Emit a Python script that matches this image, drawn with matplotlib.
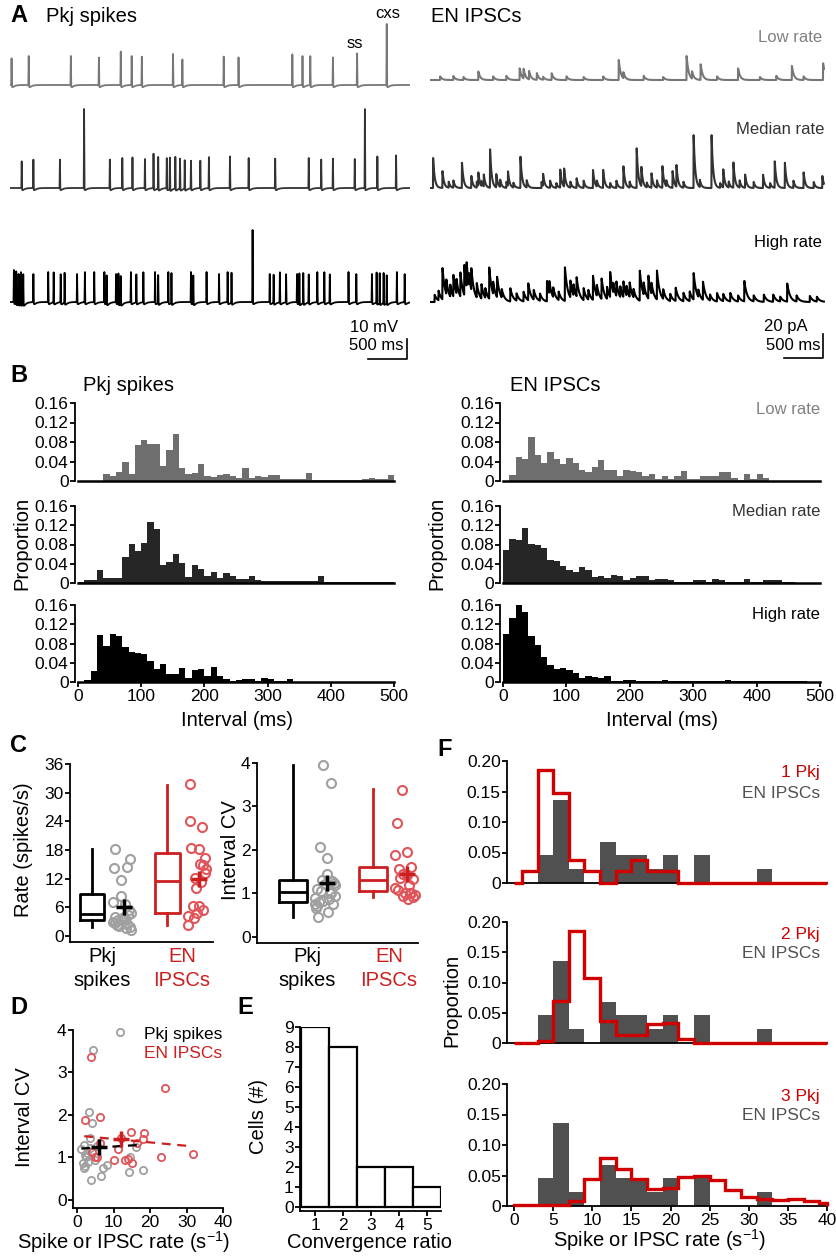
import numpy as np
import matplotlib.pyplot as plt

plt.rcParams['font.family'] = ['Liberation Sans', 'DejaVu Sans']
plt.rcParams['font.size'] = 12
plt.rcParams['axes.linewidth'] = 1.3
plt.rcParams['xtick.major.width'] = 1.3
plt.rcParams['ytick.major.width'] = 1.3
plt.rcParams['xtick.major.size'] = 3.5
plt.rcParams['ytick.major.size'] = 3.5
plt.rcParams['xtick.labelsize'] = 12.5
plt.rcParams['ytick.labelsize'] = 12.5
plt.rcParams['xtick.major.pad'] = 1.5
plt.rcParams['ytick.major.pad'] = 1

RED = '#cc1f1f'
LIGHT_RED = '#e0555a'
GRAY_PT = '#a0a0a0'
DARK_GRAY = '#505050'
TRACE_COLORS = ['#777777', '#333333', '#000000']

# ---------------- A: example traces (event times in s, amplitudes in mV / pA)
pkj_low_t = [0.02, 0.24, 0.78, 1.14, 1.42, 1.56, 1.69, 2.09, 2.21, 2.74, 2.93,
             3.62, 3.75, 3.85, 4.14, 4.45, 4.83]
pkj_low_amp = [13.3, 14.5, 14.5, 13.7, 16.7, 14.5, 14.2, 15.5, 12.8, 14.2, 13.8,
               15.3, 14.5, 14.5, 13.8, 15.8, 30.5]
pkj_med_t = [0.15, 0.30, 0.64, 0.95, 1.28, 1.44, 1.57, 1.73, 1.84, 1.90, 2.01,
             2.05, 2.12, 2.18, 2.24, 2.32, 2.44, 2.55, 2.82, 3.06, 3.40, 3.83,
             3.99, 4.14, 4.42, 4.55, 4.71, 4.95]
pkj_med_amp = [13.3, 14.2, 14.2, 39.5, 14.2, 15.0, 15.3, 14.5, 17.2, 15.8, 15.0,
               15.8, 15.8, 15.0, 14.2, 13.8, 13.7, 15.5, 15.8, 15.0, 14.7, 15.0,
               14.2, 14.7, 14.5, 39.5, 15.8, 16.3]
pkj_high_t = [0.05, 0.08, 0.11, 0.14, 0.17, 0.30, 0.49, 0.56, 0.65, 0.70, 0.86,
              0.96, 1.08, 1.21, 1.24, 1.36, 1.39, 1.42, 1.55, 1.62, 1.71, 1.86,
              1.90, 2.03, 2.07, 2.32, 2.35, 2.52, 2.68, 2.79, 2.84, 3.11, 3.33,
              3.38, 3.46, 3.54, 3.68, 3.71, 3.76, 3.83, 3.94, 4.03, 4.10, 4.34,
              4.44, 4.64, 4.70, 4.74, 4.79, 4.83, 4.96, 5.06]
pkj_high_amp = [16, 16, 15, 16, 15, 14, 15, 15, 14, 15, 14, 15, 15, 15, 14, 14,
                15, 14, 15, 14, 15, 15, 14, 15, 15, 15, 14, 15, 14, 15, 15, 36,
                14, 14, 15, 14, 14, 15, 15, 14, 15, 15, 14, 15, 14, 14, 15, 15,
                15, 14, 15, 14]

en_low_t = [0.30, 0.62, 1.15, 1.20, 1.27, 1.37, 1.56, 2.42, 2.48, 3.29, 3.36,
            3.47, 3.95, 4.64, 5.04,
            0.13, 0.43, 0.81, 0.98, 1.45, 1.75, 1.97, 2.22, 2.74, 2.99, 3.68,
            4.23, 4.44, 4.79]
en_low_amp = [3.3, 7.0, 9.7, 8.0, 7.0, 5.6, 5.6, 16.7, 5.0, 20.0, 6.0, 13.0,
              9.7, 11.7, 13.9,
              3, 2.5, 3, 3.5, 2.5, 3, 2.5, 3, 3.5, 2.5, 3, 2.5, 3.5, 3]
en_med_t = [0.04, 0.16, 0.41, 0.53, 0.62, 0.69, 0.77, 0.85, 1.00, 1.16, 1.45,
            1.67, 1.72, 1.88, 2.09, 2.22, 2.48, 2.65, 2.71, 2.84, 2.98, 3.11,
            3.16, 3.38, 3.61, 3.76, 3.89, 4.04, 4.27, 4.42, 4.55, 4.79, 5.03,
            0.24, 0.30, 0.60, 0.66, 0.90, 0.98, 1.07, 1.24, 1.43, 1.54, 1.62,
            1.80, 1.97, 2.14, 2.31, 2.39, 2.56, 2.78, 2.91, 3.03, 3.25, 3.46,
            3.72, 3.83, 3.97, 4.15, 4.36, 4.66, 4.92]
en_med_amp = [25, 14, 21, 10, 11, 10, 32, 11, 12, 26, 10, 15, 15, 8, 15, 15, 18,
              33, 16, 12, 18, 14, 18, 44, 44, 15, 21, 11, 11, 22, 21, 13, 10,
              5, 6, 5, 4, 6, 5, 4, 6, 5, 6, 4, 5, 6, 5, 4, 6, 5, 4, 6, 5, 5, 6,
              4, 5, 6, 5, 4, 6, 5]
en_high_t = [0.16, 0.21, 0.30, 0.39, 0.44, 0.47, 0.53, 0.60, 0.76, 0.86, 1.03,
             1.26, 1.33, 1.50, 1.53, 1.73, 1.80, 1.88, 2.09, 2.20, 2.31, 2.39,
             2.48, 2.56, 2.69, 2.80, 2.91, 3.15, 3.38, 3.50, 3.68, 3.85, 4.03,
             4.28, 4.58, 4.87,
             0.06, 0.11, 0.26, 0.34, 0.50, 0.66, 0.71, 0.81, 0.92, 1.11, 1.20,
             1.41, 1.58, 1.65, 1.84, 1.97, 2.03, 2.14, 2.27, 2.35, 2.44, 2.52,
             2.61, 2.74, 2.84, 2.99, 3.08, 3.25, 3.33, 3.44, 3.59, 3.76, 3.95,
             4.15, 4.40, 4.49, 4.70, 4.96]
en_high_amp = [26, 12, 18, 20, 25, 20, 18, 12, 26, 17, 11, 14, 8, 17, 10, 28,
               14, 16, 20, 17, 21, 12, 13, 12, 25, 19, 24, 11, 22, 15, 7, 7, 17,
               6, 15, 5,
               6, 8, 10, 12, 10, 12, 8, 10, 7, 6, 8, 6, 8, 7, 9, 10, 8, 9, 10,
               8, 9, 8, 7, 10, 9, 8, 6, 7, 8, 6, 5, 6, 5, 5, 6, 4, 5, 4]

# ---------------- B: interval histograms (10 ms bins, 0-500 ms)
interval_edges = np.arange(0, 510, 10)
pkj_low_hist = [0.001, 0.001, 0.001, 0.001, 0.015, 0.010, 0.018, 0.039, 0.014, 0.073,
                0.085, 0.075, 0.075, 0.030, 0.063, 0.096, 0.027, 0.014, 0.016, 0.034,
                0.010, 0.008, 0.012, 0.015, 0.010, 0.006, 0.027, 0.006, 0.010, 0.008,
                0.012, 0.012, 0.005, 0.005, 0.005, 0.005, 0.016, 0.003, 0.003, 0.003,
                0.003, 0.003, 0.003, 0.003, 0.003, 0.005, 0.006, 0.004, 0.005, 0.012]
pkj_med_hist = [0.002, 0.007, 0.007, 0.026, 0.010, 0.010, 0.010, 0.054, 0.081, 0.066,
                0.084, 0.126, 0.112, 0.038, 0.043, 0.061, 0.041, 0.012, 0.037, 0.029,
                0.014, 0.022, 0.010, 0.021, 0.014, 0.008, 0.008, 0.015, 0.006, 0.004,
                0.004, 0.004, 0.004, 0.004, 0.004, 0.004, 0.004, 0.004, 0.015, 0.002,
                0.002, 0.002, 0.002, 0.002, 0.002, 0.002, 0.002, 0.002, 0.002, 0.002]
pkj_high_hist = [0.001, 0.005, 0.022, 0.097, 0.074, 0.099, 0.095, 0.072, 0.062, 0.061,
                 0.059, 0.044, 0.026, 0.038, 0.016, 0.016, 0.029, 0.008, 0.024, 0.026,
                 0.012, 0.031, 0.013, 0.007, 0.003, 0.005, 0.006, 0.006, 0.003, 0.009,
                 0.007, 0.003, 0.003, 0.006, 0, 0, 0, 0, 0, 0,
                 0, 0, 0, 0, 0, 0, 0, 0, 0, 0]
en_low_hist = [0, 0.012, 0.050, 0.046, 0.090, 0.054, 0.036, 0.060, 0.046, 0.034,
               0.048, 0.037, 0.023, 0.019, 0.028, 0.043, 0.023, 0.023, 0.010, 0.022,
               0.020, 0.018, 0.010, 0.015, 0.005, 0.010, 0.005, 0.010, 0.021, 0.005,
               0.005, 0.010, 0.010, 0.010, 0.019, 0.019, 0.006, 0.003, 0.014, 0.005,
               0.015, 0.006, 0.001, 0.001, 0.001, 0.001, 0.001, 0.001, 0.001, 0.001]
en_med_hist = [0.068, 0.091, 0.090, 0.115, 0.081, 0.079, 0.072, 0.048, 0.045, 0.036,
               0.026, 0.022, 0.034, 0.028, 0.012, 0.014, 0.010, 0.017, 0.014, 0.007,
               0.010, 0.015, 0.014, 0.006, 0.008, 0.008, 0.007, 0.003, 0.003, 0.002,
               0.007, 0.007, 0.003, 0.008, 0.006, 0.003, 0.003, 0.003, 0.008, 0.003,
               0.002, 0.007, 0.006, 0.006, 0.003, 0.002, 0.001, 0.001, 0.001, 0.001]
en_high_hist = [0.100, 0.134, 0.160, 0.146, 0.096, 0.077, 0.052, 0.035, 0.028, 0.030,
                0.024, 0.019, 0.009, 0.012, 0.010, 0.009, 0.012, 0.003, 0.003, 0.005,
                0.005, 0.003, 0.002, 0.002, 0.002, 0.004, 0.002, 0.002, 0.002, 0.002,
                0.002, 0.002, 0.002, 0.002, 0.002, 0.004, 0.002, 0.002, 0.002, 0.002,
                0.002, 0.002, 0.002, 0.002, 0.002, 0.002, 0.002, 0.002, 0.001, 0.001]

# ---------------- C / D: per-cell rate and interval CV
pkj_rate = [18.2, 16.1, 14.3, 14.5, 11.7, 8.3, 7.2, 6.7, 4.4, 3.3, 4.0, 3.9, 1.2,
            2.0, 2.5, 3.0, 1.8, 2.2, 3.5, 2.8, 4.8, 3.6, 2.3, 5.5, 1.7]
pkj_cv = [0.71, 1.25, 0.66, 1.00, 3.96, 0.82, 0.75, 0.57, 3.53, 2.08, 1.82, 0.47,
          1.19, 1.30, 1.00, 0.90, 0.75, 0.80, 1.45, 1.10, 0.95, 1.22, 1.05, 1.28, 0.88]
en_rate = [3.7, 24.0, 2.3, 6.2, 14.9, 18.4, 18.2, 11.2, 10.1, 13.2, 14.0, 15.1,
           22.9, 31.8, 4.2, 4.8, 5.5, 6.2, 16.3, 12.1]
en_cv = [3.37, 2.63, 1.88, 1.95, 1.60, 1.57, 1.43, 1.20, 0.95, 0.93, 0.96, 0.88,
         1.02, 1.08, 1.13, 1.02, 1.02, 1.35, 1.33, 1.45]
mean_rate = [6.1, 12.0]
mean_cv = [1.25, 1.44]
# box stats: whislo, q1, median, q3, whishi
rate_box = [[1.9, 3.4, 4.5, 8.7, 18.2], [2.3, 4.8, 11.5, 17.3, 31.7]]
cv_box = [[0.47, 0.80, 1.03, 1.30, 3.96], [0.92, 1.05, 1.31, 1.62, 3.40]]
pkj_fit_x, pkj_fit_y = [1.2, 18.2], [1.21, 1.30]
en_fit_x, en_fit_y = [2.0, 30.5], [1.50, 1.27]

# ---------------- E: convergence ratio
conv_ratio = [1, 2, 3, 4, 5]
conv_cells = [9, 8, 2, 2, 1]

# ---------------- F: rate histograms
en_rate_edges = np.arange(3, 35, 2)
en_rate_hist = [0.046, 0.136, 0.023, 0, 0.068, 0.046, 0.046, 0.023, 0.046, 0,
                0.046, 0, 0, 0, 0.023]
pkj_model_edges = np.concatenate([[0], np.arange(1, 40, 2), [40]])
pkj_model_hists = [
    [0, 0.019, 0.186, 0.148, 0.037, 0.019, 0, 0.019, 0.037, 0.019, 0.019,
     0, 0, 0, 0, 0, 0, 0, 0, 0, 0],
    [0, 0, 0.004, 0.070, 0.185, 0.108, 0.036, 0.013, 0.013, 0.031, 0.033,
     0.007, 0, 0, 0, 0, 0, 0, 0, 0, 0],
    [0.001, 0.001, 0.001, 0.002, 0.008, 0.045, 0.078, 0.060, 0.045, 0.028, 0.030,
     0.047, 0.049, 0.042, 0.026, 0.014, 0.012, 0.010, 0.011, 0.008, 0.005],
]
pkj_model_labels = ['1 Pkj', '2 Pkj', '3 Pkj']

W, H = 837, 1256
fig = plt.figure(figsize=(W / 100, H / 100), dpi=100)


def px_axes(x0, y0, x1, y1):
    return fig.add_axes([x0 / W, 1 - y1 / H, (x1 - x0) / W, (y1 - y0) / H])


def label(x, y, s, **kw):
    kw.setdefault('fontsize', 14.5)
    kw.setdefault('va', 'center')
    fig.text(x / W, 1 - y / H, s, **kw)


def clean(ax):
    ax.spines[['top', 'right']].set_visible(False)
    ax.patch.set_visible(False)


# ---------------- A
t = np.arange(0, 5.13, 0.0005)


def pkj_trace(times, amps):
    v = np.zeros_like(t)
    for ts, a in zip(times, amps):
        d = t - ts
        dp = np.clip(d, 0, None)
        v += a * np.clip(1 - np.abs(d) / 0.005, 0, None)
        v -= 2.0 * (np.exp(-dp / 0.03) - np.exp(-dp / 0.006))
    return v


def ipsc_trace(times, amps, tau):
    c = np.zeros_like(t)
    for ts, a in zip(times, amps):
        d = t - ts
        rise = np.clip((d + 0.002) / 0.002, 0, 1)
        c += a * rise * np.exp(-np.clip(d, 0, None) / tau)
    return c


axl = px_axes(10, 0, 410, 365)
axl.set_xlim(0, 400 / 78)
axl.set_ylim(0, 365 / 2.0)
axl.axis('off')
for (tt, aa), base, col in zip([(pkj_low_t, pkj_low_amp), (pkj_med_t, pkj_med_amp),
                                (pkj_high_t, pkj_high_amp)], [140, 88.5, 31.5], TRACE_COLORS):
    axl.plot(t, base + pkj_trace(tt, aa), color=col, lw=1.3)
axl.plot([5.09, 5.09, 4.59], [13, 3, 3], color='black', lw=1.2)

axr = px_axes(430, 0, 830, 365)
axr.set_xlim(0, 400 / 78)
axr.set_ylim(0, 365 / 1.2)
axr.axis('off')
for (tt, aa), base, col, tau in zip([(en_low_t, en_low_amp), (en_med_t, en_med_amp),
                                     (en_high_t, en_high_amp)], [237.5, 147.5, 52.5],
                                    TRACE_COLORS, [0.025, 0.02, 0.035]):
    m = t <= 5.05
    axr.plot(t[m], base + ipsc_trace(tt, aa, tau)[m], color=col, lw=1.5)
axr.plot([5.04, 5.04, 4.54], [25.8, 5.8, 5.8], color='black', lw=1.2)

label(10, 16, 'A', fontsize=17, fontweight='bold')
label(46, 16, 'Pkj spikes')
label(355, 44, 'ss', fontsize=12, ha='center')
label(388, 14, 'cxs', fontsize=12, ha='center')
label(431, 16, 'EN IPSCs')
label(822, 37, 'Low rate', fontsize=12, ha='right', color='#808080')
label(824, 130, 'Median rate', fontsize=12, ha='right', color='#333333')
label(822, 242, 'High rate', fontsize=12, ha='right')
label(398, 327, '10 mV', fontsize=12, ha='right')
label(404, 346, '500 ms', fontsize=12, ha='right')
label(808, 327, '20 pA', fontsize=12, ha='right')
label(821, 346, '500 ms', fontsize=12, ha='right')

# ---------------- B
b_rows = [(403, 481), (506, 583), (605, 682)]
hist_colors = ['#6e6e6e', '#262626', '#000000']
for (x0, x1, hists) in [(74.8, 394, [pkj_low_hist, pkj_med_hist, pkj_high_hist]),
                        (500.5, 820, [en_low_hist, en_med_hist, en_high_hist])]:
    for r, ((y0, y1), vals) in enumerate(zip(b_rows, hists)):
        ax = px_axes(x0, y0, x1, y1)
        clean(ax)
        ax.stairs(vals, interval_edges, fill=True, color=hist_colors[r], lw=0)
        ax.set_xlim(-5 if x0 < 100 else -4, 500)
        ax.set_ylim(0, 0.16)
        ax.spines['bottom'].set_bounds(0, 500)
        ax.spines['bottom'].set_linewidth(1.8)
        ax.set_yticks([0, 0.04, 0.08, 0.12, 0.16])
        ax.set_yticklabels(['0', '0.04', '0.08', '0.12', '0.16'])
        if r == 2:
            ax.set_xticks([0, 100, 200, 300, 400, 500])
        else:
            ax.set_xticks([])

label(10, 376, 'B', fontsize=17, fontweight='bold')
label(83, 385, 'Pkj spikes')
label(510, 385, 'EN IPSCs')
label(820, 409, 'Low rate', fontsize=12, ha='right', color='#808080')
label(820, 512, 'Median rate', fontsize=12, ha='right', color='#333333')
label(820, 615, 'High rate', fontsize=12, ha='right')
label(22, 543, 'Proportion', rotation=90, ha='center')
label(437, 543, 'Proportion', rotation=90, ha='center')
label(237, 720, 'Interval (ms)', ha='center')
label(662, 720, 'Interval (ms)', ha='center')

# ---------------- C
pkj_jit = [-0.10, 0.11, -0.11, 0.06, -0.02, -0.02, -0.12, 0.04, 0.08, -0.06, 0.02,
           -0.09, 0.12, -0.04, 0.07, -0.12, 0.10, -0.07, 0.03, -0.10, 0.12, 0.00,
           -0.05, 0.09, 0.05]
en_jit = [-0.04, -0.10, -0.12, 0.02, 0.08, -0.08, 0.02, 0.05, -0.02, 0.10, 0.12,
          0.04, 0.06, -0.09, -0.12, 0.00, 0.08, -0.06, 0.10, -0.03]

c_specs = [
    ((70, 764, 213, 942), (0.707, 2.61), (-1.26, 36), np.arange(0, 37, 6),
     rate_box, pkj_rate, en_rate, mean_rate, 0.33),
    ((257, 763, 418, 943), (0.55, 2.5625), (-0.138, 4), np.arange(0, 5, 1),
     cv_box, pkj_cv, en_cv, mean_cv, 0.34),
]
for box_px, xl, yl, yt, boxes, pk, en, means, bw in c_specs:
    ax = px_axes(*box_px)
    clean(ax)
    for i, (st, col) in enumerate(zip(boxes, ['black', RED])):
        stats = [dict(whislo=st[0], q1=st[1], med=st[2], q3=st[3], whishi=st[4], fliers=[])]
        props = dict(color=col, lw=2.0)
        ax.bxp(stats, positions=[i + 1], widths=bw, showcaps=False, showfliers=False,
               boxprops=props, whiskerprops=props, medianprops=props, manage_ticks=False)
    ax.plot(1.4 + np.array(pkj_jit), pk, 'o', mfc='none', mec=GRAY_PT, ms=6.5, mew=1.5,
            clip_on=False)
    ax.plot(2.4 + np.array(en_jit), en, 'o', mfc='none', mec=LIGHT_RED, ms=6.5, mew=1.5,
            clip_on=False)
    ax.plot([1.42], [means[0]], '+', color='black', ms=12, mew=2.5)
    ax.plot([2.42], [means[1]], '+', color=RED, ms=12, mew=2.5)
    ax.set_xlim(*xl)
    ax.set_ylim(*yl)
    ax.set_yticks(yt)
    ax.set_xticks([])

label(10, 745, 'C', fontsize=17, fontweight='bold')
label(24, 850, 'Rate (spikes/s)', rotation=90, ha='center')
label(231, 850, 'Interval CV', rotation=90, ha='center')
for xc in (102, 307):
    label(xc, 957, 'Pkj', ha='center')
    label(xc, 980, 'spikes', ha='center')
for xc in (182, 389):
    label(xc, 957, 'EN', ha='center', color=RED)
    label(xc, 980, 'IPSCs', ha='center', color=RED)

# ---------------- D
ax = px_axes(73, 1030, 223, 1208)
clean(ax)
ax.set_xlim(-1.1, 40)
ax.set_ylim(-0.19, 4)
ax.set_xticks([0, 10, 20, 30, 40])
ax.set_yticks([0, 1, 2, 3, 4])
ax.plot(pkj_rate, pkj_cv, 'o', mfc='none', mec=GRAY_PT, ms=5.2, mew=1.3, clip_on=False)
ax.plot(en_rate, en_cv, 'o', mfc='none', mec=LIGHT_RED, ms=5.2, mew=1.3, clip_on=False)
ax.plot(pkj_fit_x, pkj_fit_y, '--', color='black', lw=1.6, dashes=(4, 3))
ax.plot(en_fit_x, en_fit_y, '--', color=RED, lw=1.6, dashes=(4, 3))
ax.plot([mean_rate[0]], [mean_cv[0]], '+', color='black', ms=11, mew=2.5)
ax.plot([mean_rate[1]], [mean_cv[1]], '+', color=RED, ms=11, mew=2.5)
label(10, 1008, 'D', fontsize=17, fontweight='bold')
label(25, 1117, 'Interval CV', rotation=90, ha='center')
label(124, 1242, 'Spike or IPSC rate (s$^{\\mathregular{-1}}$)', ha='center')
label(222, 1035, 'Pkj spikes', fontsize=12.5, ha='right')
label(222, 1053, 'EN IPSCs', fontsize=12.5, ha='right', color=RED)

# ---------------- E
ax = px_axes(300, 1027, 441, 1211)
clean(ax)
ax.bar(conv_ratio, conv_cells, width=1, color='white', edgecolor='black', lw=1.6)
ax.set_xlim(0.464, 5.5)
ax.set_ylim(-0.2, 9)
ax.set_yticks(range(0, 10))
ax.set_xticks(conv_ratio)
label(237, 1008, 'E', fontsize=17, fontweight='bold')
label(258, 1117, 'Cells (#)', rotation=90, ha='center')
label(370, 1242, 'Convergence ratio', ha='center')

# ---------------- F
f_rows = [(761, 883), (922, 1043), (1084, 1206)]
for r, ((y0, y1), vals, name) in enumerate(zip(f_rows, pkj_model_hists, pkj_model_labels)):
    ax = px_axes(507, y0, 827, y1)
    clean(ax)
    ax.bar(en_rate_edges[:-1], en_rate_hist, width=2, align='edge', color=DARK_GRAY, lw=0)
    ax.stairs(vals, pkj_model_edges, color='#d00000', lw=2.4, zorder=3, clip_on=False)
    ax.set_xlim(-0.9, 40)
    ax.set_ylim(0, 0.2)
    ax.set_yticks([0, 0.05, 0.10, 0.15, 0.20])
    ax.set_yticklabels(['0', '0.05', '0.10', '0.15', '0.20'])
    if r == 2:
        ax.set_xticks(range(0, 41, 5))
    else:
        ax.set_xticks([])
    label(820, y0 + 12, name, fontsize=12.5, ha='right', color='#d00000')
    label(820, y0 + 32, 'EN IPSCs', fontsize=12.5, ha='right', color=DARK_GRAY)

label(437, 750, 'F', fontsize=17, fontweight='bold')
label(452, 1000, 'Proportion', rotation=90, ha='center')
label(660, 1240, 'Spike or IPSC rate (s$^{\\mathregular{-1}}$)', ha='center')

plt.savefig('out.png', dpi=100)
